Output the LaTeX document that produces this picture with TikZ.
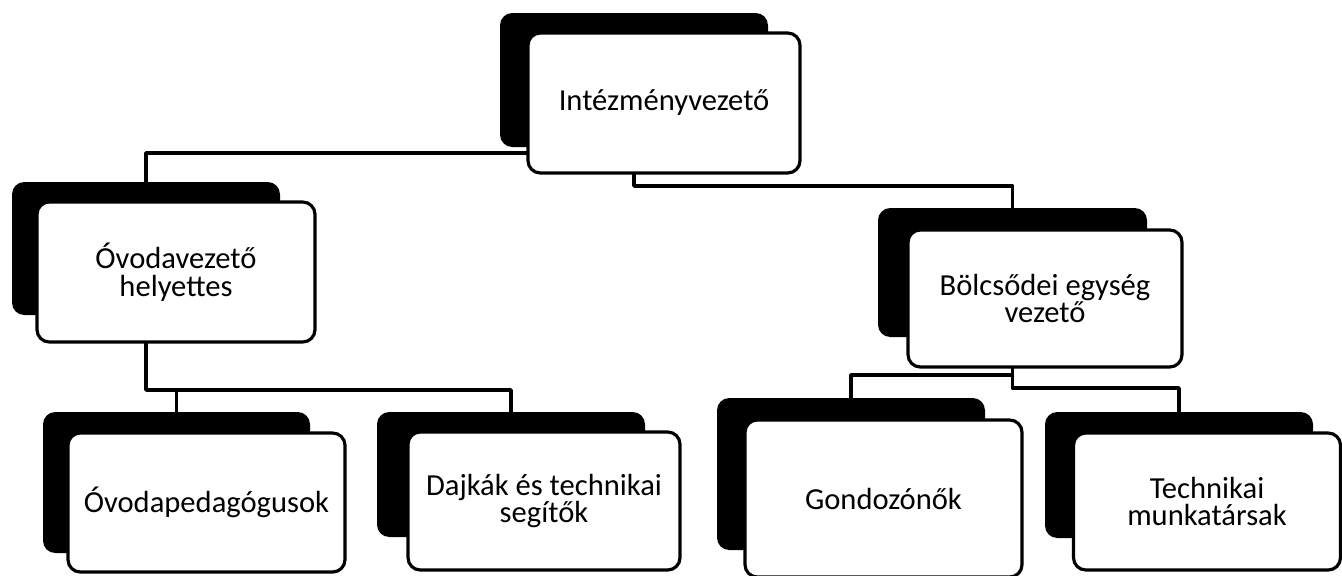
\documentclass[tikz,border=0pt]{standalone}
\usepackage{fontspec}
\setmainfont{Carlito}
\usetikzlibrary{backgrounds}
\tikzset{
  orgshade/.style 2 args={fill=black,rounded corners=7pt,inner sep=0pt,minimum width=#1*0.02cm,minimum height=#2*0.02cm},
  orgbox/.style 2 args={draw,line width=1.8pt,fill=white,rounded corners=7pt,inner sep=0pt,align=center,
    minimum width=#1*0.02cm,minimum height=#2*0.02cm,font=\orgfont},
  orglink/.style={line width=2pt,line join=round},
}
\newcommand{\orgfont}{\fontsize{17.4}{15.8}\selectfont}

\begin{document}
\begin{tikzpicture}[x=0.02cm,y=-0.02cm]
\useasboundingbox (0,0) rectangle (1342,575);
% ---- black backing plates (the links hang off these)
\node[orgshade={268}{134}] (ivs)   at (634,80) {};
\node[orgshade={268}{133}] (ovhs)  at (146,248.5) {};
\node[orgshade={269}{129}] (bols)  at (1012.5,272.5) {};
\node[orgshade={267}{141}] (ovps)  at (176.5,482.5) {};
\node[orgshade={268}{125}] (dajs)  at (511,474.5) {};
\node[orgshade={268}{152}] (gons)  at (851,474) {};
\node[orgshade={268}{126}] (techs) at (1179,475) {};
% ---- white boxes with the titles
\node[orgbox={272}{140}] (iv)   at (664,103) {Intézményvezető};
\node[orgbox={278}{140}] (ovh)  at (176,272) {Óvodavezető\\helyettes};
\node[orgbox={274}{137}] (bol)  at (1045,298.5) {Bölcsődei egység\\vezető};
\node[orgbox={277}{139}] (ovp)  at (206.5,502.5) {Óvodapedagógusok};
\node[orgbox={272}{138}] (daj)  at (544,501) {Dajkák és technikai\\segítők};
\node[orgbox={277}{157}] (gon)  at (883.5,498.5) {Gondozónők};
\node[orgbox={267}{137}] (tech) at (1207,501.5) {Technikai\\munkatársak};
% ---- links, behind everything
\begin{scope}[on background layer]
  \draw[orglink] (ivs.center) |- (ovhs.north |- 0,153) -- (ovhs.north);
  \draw[orglink] (ivs.center) |- (bols.north |- 0,186) -- (bols.north);
  \draw[orglink] (ovhs.center) |- (dajs.north |- 0,390) -- (dajs.north);
  \draw[orglink] (ovps.north |- 0,390) -- (ovps.north);
  \draw[orglink] (bols.center) |- (techs.north |- 0,388) -- (techs.north);
  \draw[orglink] (bols.center |- 0,375) -| (gons.north);
\end{scope}
\end{tikzpicture}
\end{document}
